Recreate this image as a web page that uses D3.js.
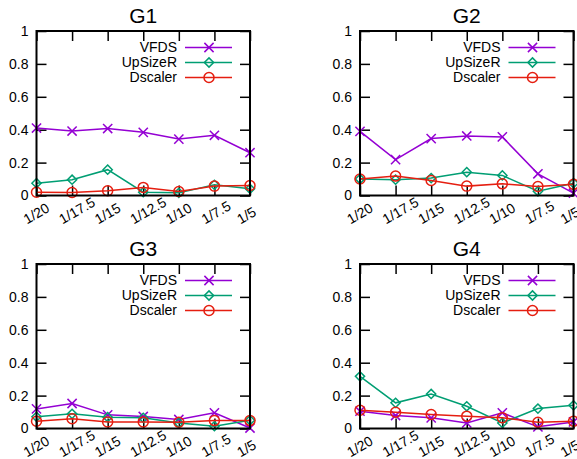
<!DOCTYPE html>
<html>
<head>
<meta charset="utf-8">
<script src="https://cdn.jsdelivr.net/npm/d3@7"></script>
<style>
  html, body { margin: 0; padding: 0; background: #fff; }
  svg { display: block; font-family: "Liberation Sans", Arial, sans-serif; }
</style>
</head>
<body>
<svg id="chart" width="577" height="459"></svg>
<script>
// ---- data ----
const categories = ["1/20", "1/17.5", "1/15", "1/12.5", "1/10", "1/7.5", "1/5"];
const panelTitles = ["G1", "G2", "G3", "G4"];
const seriesNames = ["VFDS", "UpSizeR", "Dscaler"];
const seriesColors = ["#9400d3", "#009e73", "#e51e10"];
const seriesMarkers = ["cross", "diamond", "circle"];
const yTicks = [0, 0.2, 0.4, 0.6, 0.8, 1];
const yTickLabels = ["0", "0.2", "0.4", "0.6", "0.8", "1"];

const g1VFDS    = [0.41, 0.392, 0.407, 0.384, 0.343, 0.366, 0.26];
const g1UpSizeR = [0.075, 0.096, 0.157, 0.02, 0.016, 0.065, 0.041];
const g1Dscaler = [0.02, 0.018, 0.029, 0.049, 0.024, 0.057, 0.061];

const g2VFDS    = [0.39, 0.218, 0.346, 0.362, 0.356, 0.132, 0.014];
const g2UpSizeR = [0.1, 0.096, 0.106, 0.142, 0.122, 0.026, 0.075];
const g2Dscaler = [0.1, 0.118, 0.091, 0.057, 0.071, 0.055, 0.068];

const g3VFDS    = [0.119, 0.152, 0.083, 0.073, 0.055, 0.095, 0.003];
const g3UpSizeR = [0.071, 0.089, 0.069, 0.065, 0.034, 0.014, 0.05];
const g3Dscaler = [0.044, 0.059, 0.04, 0.04, 0.038, 0.048, 0.048];

const g4VFDS    = [0.105, 0.079, 0.065, 0.034, 0.095, 0.01, 0.04];
const g4UpSizeR = [0.317, 0.156, 0.21, 0.135, 0.034, 0.121, 0.141];
const g4Dscaler = [0.111, 0.099, 0.085, 0.075, 0.065, 0.038, 0.044];

const panelData = [
  [g1VFDS, g1UpSizeR, g1Dscaler],
  [g2VFDS, g2UpSizeR, g2Dscaler],
  [g3VFDS, g3UpSizeR, g3Dscaler],
  [g4VFDS, g4UpSizeR, g4Dscaler]
];

// ---- layout ----
const panelLeft = [36.5, 360, 36.5, 360];
const panelTop = [31, 31, 264, 264];
const plotW = 213.5;
const plotH = 164.5;
const tickLen = 10;

const svg = d3.select("#chart");

function drawMarker(g, type, x, y, color) {
  const s = 4.6;
  if (type === "cross") {
    g.append("path")
      .attr("d", `M${x - s},${y - s}L${x + s},${y + s}M${x - s},${y + s}L${x + s},${y - s}`)
      .attr("stroke", color).attr("stroke-width", 1.5).attr("fill", "none");
  } else if (type === "diamond") {
    g.append("path")
      .attr("d", `M${x},${y - s}L${x + s},${y}L${x},${y + s}L${x - s},${y}Z`)
      .attr("stroke", color).attr("stroke-width", 1.5).attr("fill", "none");
  } else {
    g.append("circle").attr("cx", x).attr("cy", y).attr("r", 5)
      .attr("stroke", color).attr("stroke-width", 1.5).attr("fill", "none");
  }
}

panelTitles.forEach((title, pi) => {
  const g = svg.append("g").attr("transform", `translate(${panelLeft[pi]},${panelTop[pi]})`);
  const x = d3.scalePoint().domain(categories).range([0, plotW]).padding(0);
  const y = d3.scaleLinear().domain([0, 1]).range([plotH, 0]);

  // title
  g.append("text").attr("x", plotW / 2).attr("y", -8)
    .attr("text-anchor", "middle").attr("font-size", 21).attr("fill", "#000")
    .text(title);

  // axes
  const left = g.append("g").call(d3.axisLeft(y).tickValues(yTicks)
    .tickFormat((d, i) => yTickLabels[i]).tickSize(-tickLen).tickPadding(8));
  const right = g.append("g").attr("transform", `translate(${plotW},0)`)
    .call(d3.axisRight(y).tickValues(yTicks).tickFormat("").tickSize(-tickLen));
  const top = g.append("g")
    .call(d3.axisTop(x).tickFormat("").tickSize(-tickLen));
  const bottom = g.append("g").attr("transform", `translate(0,${plotH})`)
    .call(d3.axisBottom(x).tickSize(-tickLen));
  [left, right, top, bottom].forEach(a => {
    a.select(".domain").remove();
    a.selectAll(".tick line").attr("stroke", "#000").attr("stroke-width", 1.5);
  });
  left.selectAll(".tick text").attr("font-size", 14).attr("fill", "#000")
    .attr("font-family", "Liberation Sans, Arial, sans-serif");
  bottom.selectAll(".tick text")
    .attr("font-size", 14).attr("fill", "#000")
    .attr("font-family", "Liberation Sans, Arial, sans-serif")
    .attr("text-anchor", "start").attr("x", 0).attr("y", 0).attr("dy", 0)
    .attr("transform", "translate(-10,29) rotate(-30)");

  // series
  panelData[pi].forEach((vals, si) => {
    const line = d3.line().x((d, i) => x(categories[i])).y(d => y(d));
    g.append("path").datum(vals).attr("d", line)
      .attr("fill", "none").attr("stroke", seriesColors[si]).attr("stroke-width", 1.5);
    const mg = g.append("g");
    vals.forEach((v, i) => drawMarker(mg, seriesMarkers[si], x(categories[i]), y(v), seriesColors[si]));
  });

  // legend
  seriesNames.forEach((name, si) => {
    const ly = 16.5 + si * 15;
    g.append("text").attr("x", plotW - 73).attr("y", ly).attr("dy", "0.35em")
      .attr("text-anchor", "end").attr("font-size", 14).attr("fill", "#000").text(name);
    g.append("line").attr("x1", plotW - 65).attr("x2", plotW - 18)
      .attr("y1", ly).attr("y2", ly)
      .attr("stroke", seriesColors[si]).attr("stroke-width", 1.5);
    drawMarker(g, seriesMarkers[si], plotW - 41, ly, seriesColors[si]);
  });

  // frame
  g.append("rect").attr("x", 0).attr("y", 0).attr("width", plotW).attr("height", plotH)
    .attr("fill", "none").attr("stroke", "#000").attr("stroke-width", 2);
});
</script>
</body>
</html>
